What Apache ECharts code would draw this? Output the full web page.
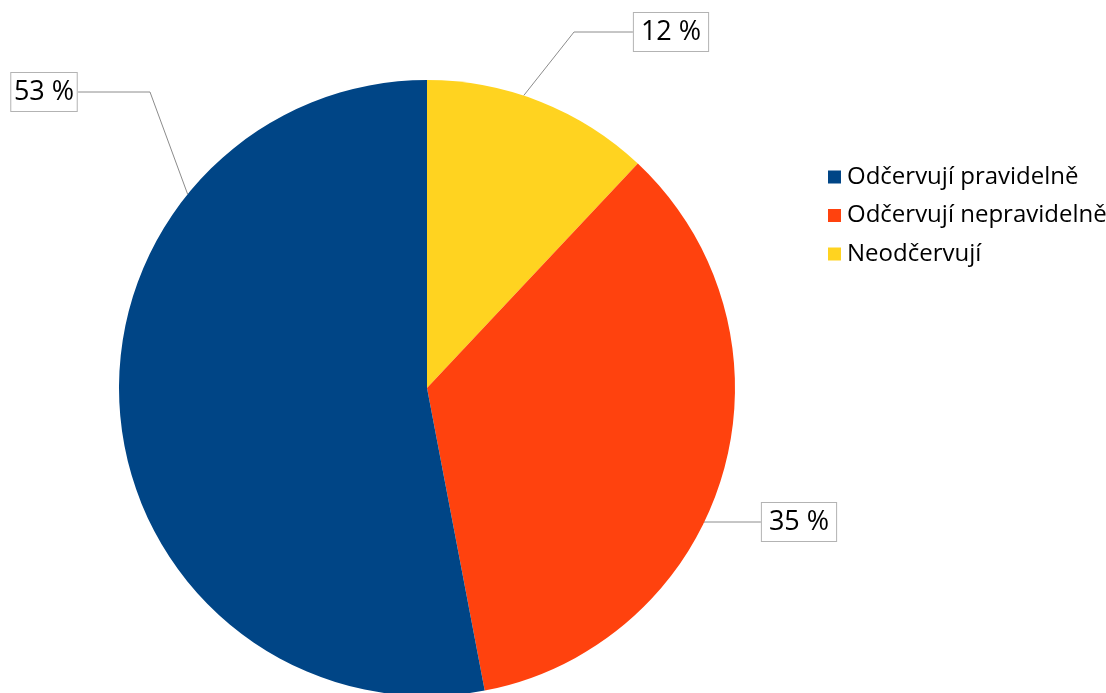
<!DOCTYPE html>
<html>
<head>
<meta charset="utf-8">
<script src="https://cdn.jsdelivr.net/npm/echarts@6/dist/echarts.min.js"></script>
<style>
  html, body { margin: 0; padding: 0; background: #ffffff; }
  #chart { width: 1106px; height: 693px; }
</style>
</head>
<body>
<div id="chart"></div>
<script>
// Deworming habits: share of respondents per answer
const categories = ['Odčervují pravidelně', 'Odčervují nepravidelně', 'Neodčervují'];
const shares = [53, 35, 12];
const colors = ['#004586', '#ff420e', '#ffd320'];
// slices are drawn clockwise from 12 o'clock in this order
const sliceOrder = [2, 1, 0];

const FONT = '"Open Sans", Lato, sans-serif';
const CENTER = [427, 388];
const RADIUS = 308;

// where each percentage box sits and the angle (deg, clockwise from top) its leader leaves the rim
const labelPlacement = {
  'Odčervují pravidelně':   { box: [44, 92], elbow: [150, 92], rimAngle: -51, side: 'right' },
  'Odčervují nepravidelně': { box: [799, 522], elbow: [704, 522], rimAngle: 115.8, side: 'left' },
  'Neodčervují':            { box: [671, 32], elbow: [574, 32], rimAngle: 18.3, side: 'left' }
};

const pieData = sliceOrder.map(i => ({
  name: categories[i],
  value: shares[i],
  itemStyle: { color: colors[i] }
}));

const chart = echarts.init(document.getElementById('chart'), null, { renderer: 'canvas' });

chart.setOption({
  animation: false,
  backgroundColor: '#ffffff',
  legend: {
    data: categories,
    orient: 'vertical',
    left: 823,
    top: 160,
    itemWidth: 13,
    itemHeight: 13,
    itemGap: 14.5,
    icon: 'rect',
    selectedMode: false,
    textStyle: { fontFamily: FONT, fontSize: 24, lineHeight: 24, color: '#000000', padding: [0, 0, 0, 1] }
  },
  series: [{
    type: 'pie',
    center: CENTER,
    radius: RADIUS,
    startAngle: 90,
    clockwise: true,
    data: pieData,
    itemStyle: { borderWidth: 0 },
    emphasis: { disabled: true },
    label: {
      show: true,
      formatter: p => p.value + ' %',
      fontFamily: FONT,
      fontSize: 27,
      lineHeight: 27,
      overflow: 'none',
      color: '#000000',
      backgroundColor: '#ffffff',
      borderColor: '#b3b3b3',
      borderWidth: 1,
      padding: [6, 7, 5, 7]
    },
    labelLine: {
      show: true,
      length: 20,
      length2: 20,
      lineStyle: { color: '#8c8c8c', width: 1 }
    },
    labelLayout: function (params) {
      const place = labelPlacement[categories[sliceOrder[params.dataIndex]]];
      const a = place.rimAngle * Math.PI / 180;
      const rim = [CENTER[0] + RADIUS * Math.sin(a), CENTER[1] - RADIUS * Math.cos(a)];
      const half = params.labelRect.width / 2;
      const edgeX = place.side === 'right' ? place.box[0] + half : place.box[0] - half;
      return {
        x: place.box[0],
        y: place.box[1],
        align: 'center',
        verticalAlign: 'middle',
        labelLinePoints: [rim, place.elbow, [edgeX, place.elbow[1]]]
      };
    }
  }]
});
</script>
</body>
</html>
